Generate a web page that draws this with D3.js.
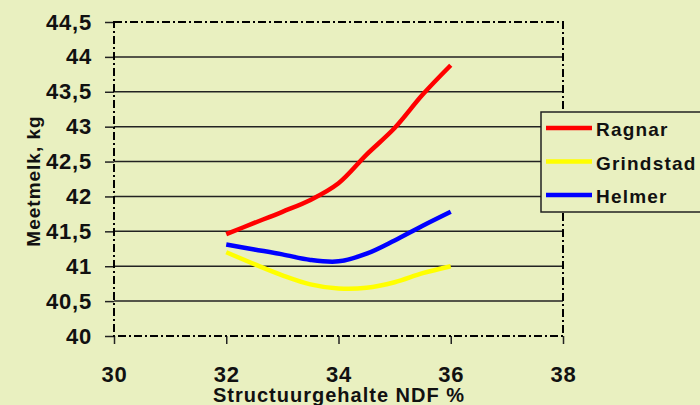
<!DOCTYPE html>
<html>
<head>
<meta charset="utf-8">
<script src="https://cdn.jsdelivr.net/npm/d3@7"></script>
<style>
  body { margin: 0; background: #e9f0c0; }
  svg text { font-family: "Liberation Sans", Arial, sans-serif; font-weight: bold; }
</style>
</head>
<body>
<div id="chart"></div>
<script>
var ndf = [32, 32.5, 33, 33.5, 34, 34.5, 35, 35.5, 36]
var ragnar = [41.46, 41.62, 41.78, 41.95, 42.19, 42.6, 42.98, 43.46, 43.88]
var grindstad = [41.2, 41.03, 40.87, 40.74, 40.68, 40.69, 40.77, 40.9, 41.0]
var helmer = [41.31, 41.24, 41.17, 41.09, 41.07, 41.18, 41.37, 41.58, 41.78]
var seriesNames = ["Ragnar", "Grindstad", "Helmer"]
var seriesColors = ["#ff0000", "#ffff00", "#0000ff"]
var xTicks = [30, 32, 34, 36, 38]
var yTicks = [40, 40.5, 41, 41.5, 42, 42.5, 43, 43.5, 44, 44.5]

var width = 700, height = 405,
margin = {top: 22, right: 137, bottom: 69, left: 114}

var svg = d3.select("#chart").append("svg")
  .attr("width", width)
  .attr("height", height)

var x = d3.scaleLinear().domain([30, 38]).range([margin.left, width - margin.right])
var y = d3.scaleLinear().domain([40, 44.5]).range([height - margin.bottom, margin.top])

var fmt = function(d) { return String(d).replace(".", ",") }

// gridlines
svg.append("g")
  .selectAll("line")
  .data(yTicks.slice(1, -1))
  .enter().append("line")
    .attr("x1", x(30)).attr("x2", x(38))
    .attr("y1", function(d) { return y(d) }).attr("y2", function(d) { return y(d) })
    .attr("stroke", "#222").attr("stroke-width", 1.5)

// y axis
var yAxis = svg.append("g")
  .attr("transform", "translate(" + margin.left + ",0)")
  .call(d3.axisLeft(y).tickValues(yTicks).tickFormat(fmt).tickSize(9).tickPadding(13))
yAxis.select(".domain").remove()
yAxis.selectAll("line").attr("stroke", "#222").attr("stroke-width", 1.5)
yAxis.selectAll("text").attr("font-size", 22).attr("fill", "#111").attr("letter-spacing", 0.8)

// x axis
var xAxis = svg.append("g")
  .attr("transform", "translate(0," + y(40) + ")")
  .call(d3.axisBottom(x).tickValues(xTicks).tickSize(8))
xAxis.select(".domain").remove()
xAxis.selectAll("line").attr("stroke", "#222").attr("stroke-width", 1.5)
xAxis.selectAll("text").attr("font-size", 22).attr("fill", "#111")
  .attr("y", 46).attr("dy", 0).attr("letter-spacing", 0.8)

// plot border (dash-dot)
svg.append("rect")
  .attr("x", x(30)).attr("y", y(44.5))
  .attr("width", x(38) - x(30)).attr("height", y(40) - y(44.5))
  .attr("fill", "none").attr("stroke", "#000").attr("stroke-width", 2)
  .attr("stroke-dasharray", "8,3,2,3")

// lines
var all = [ragnar, grindstad, helmer]
var line = d3.line()
  .x(function(d, i) { return x(ndf[i]) })
  .y(function(d) { return y(d) })
  .curve(d3.curveCatmullRom)

svg.append("g")
  .selectAll("path")
  .data(all)
  .enter().append("path")
    .attr("d", line)
    .attr("fill", "none")
    .attr("stroke", function(d, i) { return seriesColors[i] })
    .attr("stroke-width", 4.5)

// axis titles
svg.append("text")
  .attr("x", 339).attr("y", 402)
  .attr("text-anchor", "middle")
  .attr("font-size", 20).attr("fill", "#111")
  .attr("letter-spacing", 1)
  .text("Structuurgehalte NDF %")

svg.append("text")
  .attr("transform", "translate(40,181) rotate(-90)")
  .attr("text-anchor", "middle")
  .attr("font-size", 19).attr("fill", "#111")
  .attr("letter-spacing", 1)
  .text("Meetmelk, kg")

// legend
var legend = svg.append("g").attr("transform", "translate(541,112)")
legend.append("rect")
  .attr("width", 170).attr("height", 100)
  .attr("fill", "#e9f0c0").attr("stroke", "#222").attr("stroke-width", 1.5)

var item = legend.selectAll(".item")
  .data(seriesNames)
  .enter().append("g")
    .attr("transform", function(d, i) { return "translate(0," + (16 + i * 33.5) + ")" })
item.append("line")
  .attr("x1", 5).attr("x2", 51)
  .attr("stroke", function(d, i) { return seriesColors[i] })
  .attr("stroke-width", 4.5)
item.append("text")
  .attr("x", 55).attr("y", 8)
  .attr("font-size", 19).attr("fill", "#111")
  .attr("letter-spacing", 1.2)
  .text(function(d) { return d })
</script>
</body>
</html>
